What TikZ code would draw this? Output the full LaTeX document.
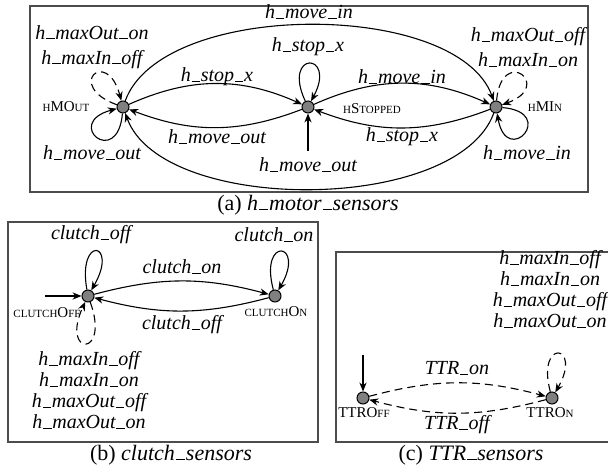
\documentclass[tikz,border=0pt]{standalone}
\usepackage{fontspec}
\setmainfont{Liberation Serif}
\usetikzlibrary{arrows.meta}
\newcommand{\smc}[1]{{\fontsize{5.5}{6}\selectfont #1}}
\newcommand{\usc}{\kern.04em\vbox{\hrule width .42em height .45pt}\kern.04em}
\tikzset{
  state/.style={circle, draw, fill=gray, minimum size=6pt, inner sep=0pt, line width=0.5pt},
  stname/.style={font=\fontsize{7.5}{8}\selectfont, inner sep=1pt},
  evt/.style={font=\itshape, inner sep=1pt},
  evts/.style={font=\fontsize{10}{10.5}\selectfont\itshape, align=center, inner sep=0pt},
  trans/.style={-{Stealth[length=4.5pt,width=3.6pt]}, line width=0.55pt},
  silent/.style={trans, dash pattern=on 4pt off 2.5pt},
  panel/.style={draw=black!70, line width=0.6pt},
  capt/.style={font=\fontsize{11}{13}\selectfont}
}
\begin{document}
\begin{tikzpicture}[x=0.5pt, y=0.5pt]
\clip (0,0) rectangle (608,475);
% (a) h_motor_sensors
\draw[panel] (30,283) rectangle (588,469);
\node (mout) at (123,368) [state] {};
\node (stop) at (308,368) [state] {};
\node (min) at (496,368) [state] {};
\node (moutn) at (66,368) [stname] {\smc{H}MO\smc{UT}};
\node (stopn) at (372,366) [stname] {\smc{H}S\smc{TOPPED}};
\node (minn) at (545,368) [stname] {\smc{H}MI\smc{N}};
\coordinate (stopin) at (308,324);
\draw[trans] (stopin) -- (stop);
\draw[trans] (mout) to[bend left=24] (stop);
\draw[trans] (stop) to[bend left=21] (mout);
\draw[trans] (stop) to[bend left=24] (min);
\draw[trans] (min) to[bend left=21] (stop);
\draw[trans] (mout) to[out=70, in=110, looseness=0.75] (min);
\draw[trans] (min) to[out=-110, in=-70, looseness=0.75] (mout);
\draw[trans] (stop) to[out=115, in=62, min distance=28pt] (stop);
\draw[silent] (mout) to[out=160, in=105, min distance=28pt] (mout);
\draw[trans] (mout) to[out=-95, in=195, min distance=28pt] (mout);
\draw[silent] (min) to[out=85, in=20, min distance=28pt] (min);
\draw[trans] (min) to[out=-5, in=-80, min distance=28pt] (min);
\node (a1) at (217,398) [evt] {h\usc stop\usc x};
\node (a2) at (217,338) [evt] {h\usc move\usc out};
\node (a3) at (402,398) [evt] {h\usc move\usc in};
\node (a4) at (402,338) [evt] {h\usc stop\usc x};
\node (a5) at (309,463) [evt] {h\usc move\usc in};
\node (a6) at (308,310) [evt] {h\usc move\usc out};
\node (a7) at (308,428) [evt] {h\usc stop\usc x};
\node (a8) at (92,428) [evts, font=\fontsize{10}{12.5}\selectfont\itshape] {h\usc maxOut\usc on\\h\usc maxIn\usc off};
\node (a9) at (92,322) [evt] {h\usc move\usc out};
\node (a10) at (528,428) [evts, font=\fontsize{10}{12.5}\selectfont\itshape] {h\usc maxOut\usc off\\h\usc maxIn\usc on};
\node (a11) at (527,322) [evt] {h\usc move\usc in};
\node (capa) at (308,270) [capt] {(a) \textit{h\usc motor\usc sensors}};
% (b) clutch_sensors
\draw[panel] (8,33) rectangle (318,253);
\node (coff) at (88,179) [state] {};
\node (con) at (275,179) [state] {};
\node (coffn) at (47,162) [stname] {\smc{CLUTCH}O\smc{FF}};
\node (conn) at (276,163) [stname] {\smc{CLUTCH}O\smc{N}};
\coordinate (coffin) at (45,179);
\draw[trans] (coffin) -- (coff);
\draw[trans] (coff) to[bend left=15] (con);
\draw[trans] (con) to[bend left=15] (coff);
\draw[trans] (coff) to[out=100, in=60, min distance=28pt] (coff);
\draw[trans] (con) to[out=105, in=60, min distance=28pt] (con);
\draw[silent] (coff) to[out=-70, in=-115, min distance=30pt] (coff);
\node (b1) at (182,208) [evt] {clutch\usc on};
\node (b2) at (182,150) [evt] {clutch\usc off};
\node (b3) at (91,240) [evt] {clutch\usc off};
\node (b4) at (274,240) [evt] {clutch\usc on};
\node (b5) at (89,85) [evts] {h\usc maxIn\usc off\\h\usc maxIn\usc on\\h\usc maxOut\usc off\\h\usc maxOut\usc on};
\node (capb) at (171,20) [capt] {(b) \textit{clutch\usc sensors}};
% (c) TTR_sensors
\draw[panel] (336,33) rectangle (620,223);
\node (toff) at (363,77) [state] {};
\node (ton) at (552,77) [state] {};
\node (toffn) at (364,62) [stname] {TTRO\smc{FF}};
\node (tonn) at (550,62) [stname] {TTRO\smc{N}};
\coordinate (toffin) at (363,120);
\draw[trans] (toffin) -- (toff);
\draw[silent] (toff) to[bend left=15] (ton);
\draw[silent] (ton) to[bend left=15] (toff);
\draw[silent] (ton) to[out=105, in=60, min distance=28pt] (ton);
\node (c1) at (457,107) [evt] {TTR\usc on};
\node (c2) at (457,50) [evt] {TTR\usc off};
\node (c3) at (550,186) [evts] {h\usc maxIn\usc off\\h\usc maxIn\usc on\\h\usc maxOut\usc off\\h\usc maxOut\usc on};
\node (capc) at (471,20) [capt] {(c) \textit{TTR\usc sensors}};
\end{tikzpicture}
\end{document}
